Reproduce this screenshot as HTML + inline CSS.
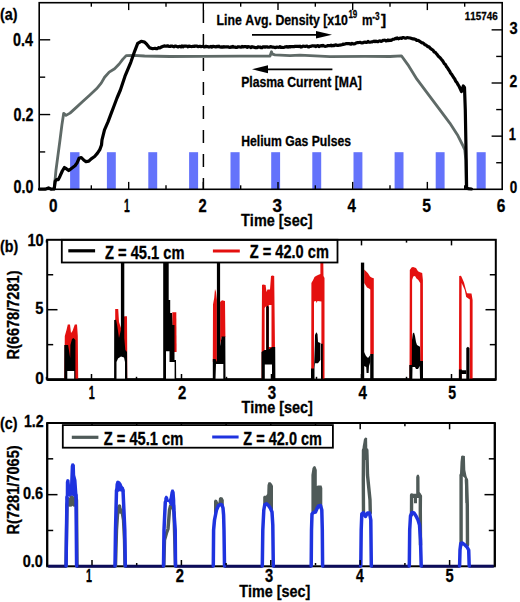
<!DOCTYPE html>
<html><head><meta charset="utf-8"><style>
html,body{margin:0;padding:0;background:#fff;}
svg{display:block;}
text{font-family:"Liberation Sans",sans-serif;font-weight:bold;font-kerning:none;stroke:#000;stroke-width:0.3px;}
</style></head><body>
<svg width="520" height="602" viewBox="0 0 520 602">
<rect width="520" height="602" fill="#fff"/>
<rect x="70.10" y="152.20" width="9.40" height="37.10" fill="#6473fb"/>
<rect x="106.90" y="152.20" width="8.90" height="37.10" fill="#6473fb"/>
<rect x="148.30" y="152.20" width="8.90" height="37.10" fill="#6473fb"/>
<rect x="189.10" y="152.20" width="9.00" height="37.10" fill="#6473fb"/>
<rect x="230.50" y="152.20" width="9.10" height="37.10" fill="#6473fb"/>
<rect x="271.20" y="152.20" width="8.90" height="37.10" fill="#6473fb"/>
<rect x="312.30" y="152.20" width="8.90" height="37.10" fill="#6473fb"/>
<rect x="353.50" y="152.20" width="8.90" height="37.10" fill="#6473fb"/>
<rect x="394.60" y="152.20" width="8.90" height="37.10" fill="#6473fb"/>
<rect x="435.70" y="152.20" width="8.90" height="37.10" fill="#6473fb"/>
<rect x="476.60" y="152.20" width="9.10" height="37.10" fill="#6473fb"/>
<line x1="203.40" y1="10.00" x2="203.40" y2="190.00" stroke="#000" stroke-width="1.5" stroke-dasharray="13 11"/>
<polyline points="54.20,189.00 56.00,170.00 58.00,155.00 60.00,140.00 61.90,125.00 63.70,113.30 66.00,115.40 70.00,113.10 75.80,107.90 82.70,101.50 89.60,95.20 96.50,88.80 101.20,83.10 104.60,77.30 109.20,72.10 114.60,68.70 119.20,64.00 122.70,59.40 126.20,55.60 133.00,55.40 144.60,56.00 170.00,56.50 200.00,56.30 240.00,56.20 262.00,56.20 270.00,56.00 271.50,51.80 272.50,54.20 275.00,54.90 290.00,55.60 300.00,55.20 330.00,56.60 365.00,56.30 390.00,56.50 401.40,55.80 407.80,64.60 416.90,79.20 427.90,93.80 438.80,108.40 449.80,123.10 458.00,135.80 462.60,145.00 464.80,150.00 465.80,160.00 466.30,188.50" fill="none" stroke="#5f6a67" stroke-width="2.8" stroke-linejoin="round" stroke-linecap="round" />
<polyline points="39.50,189.20 45.00,189.20 48.50,187.90 51.30,189.20 54.20,188.80 55.20,181.30 56.50,179.60 58.30,179.60 60.00,176.20 62.30,171.00 64.40,167.50 66.30,168.70 68.70,170.60 70.40,169.20 72.70,167.50 75.00,165.80 77.10,162.90 79.00,158.30 81.30,157.50 83.70,160.00 86.00,161.70 88.80,161.20 91.20,158.80 94.60,156.50 97.50,153.10 99.80,149.60 101.50,145.00 102.00,139.90 104.50,129.90 108.00,121.90 111.00,113.90 114.00,106.00 117.00,98.00 120.40,90.00 125.00,76.20 130.80,62.30 134.80,50.80 137.70,43.30 141.20,41.30 144.60,42.10 146.90,44.40 149.80,47.90 152.70,48.70 153.87,48.51 155.03,48.32 156.20,48.70 157.33,48.60 158.47,47.70 159.60,47.90 160.77,47.44 161.93,46.75 163.10,46.40 164.23,45.85 165.37,46.27 166.50,46.20 167.67,45.79 168.83,46.33 170.00,46.50 171.00,46.02 172.00,46.04 173.00,46.40 174.00,46.84 175.00,46.06 176.00,46.17 177.00,46.61 178.00,46.95 179.00,46.54 180.00,46.34 181.00,46.97 182.00,45.94 183.00,46.83 184.00,46.20 185.00,46.03 186.00,46.00 187.00,46.20 188.00,46.76 189.00,46.05 190.00,46.40 191.00,46.50 192.00,46.58 193.00,46.30 194.00,46.50 195.00,45.98 196.00,45.99 197.00,46.16 198.00,46.69 199.00,46.43 200.00,46.32 201.00,46.63 202.00,46.49 203.00,46.34 204.00,46.89 205.00,46.80 206.00,46.31 207.00,46.69 208.00,46.64 209.00,47.04 210.00,46.89 211.00,46.42 212.00,47.19 213.00,46.26 214.00,46.60 215.00,46.70 216.00,46.99 217.00,46.34 218.00,46.72 219.00,46.24 220.00,46.95 221.00,47.06 222.00,46.86 223.00,47.21 224.00,46.60 225.00,47.03 226.00,46.94 227.00,46.93 228.00,46.81 229.00,47.24 230.00,47.37 231.00,46.86 232.00,47.08 233.00,46.43 234.00,47.15 235.00,47.10 236.00,47.49 237.00,47.32 238.00,46.74 239.00,46.86 240.00,47.00 241.00,47.19 242.00,46.49 243.00,46.98 244.00,46.67 245.00,46.62 246.00,46.56 247.00,47.35 248.00,46.66 249.00,46.79 250.00,46.96 251.00,47.50 252.00,46.63 253.00,47.05 254.00,47.17 255.00,47.54 256.00,47.48 257.00,47.54 258.00,46.90 259.00,47.06 260.00,47.00 261.00,47.59 262.00,47.68 263.00,46.80 264.00,46.84 265.00,47.20 266.00,46.90 267.00,46.89 268.00,47.16 269.00,47.27 270.00,46.90 271.00,46.61 272.00,47.05 273.00,46.99 274.00,47.20 275.00,47.62 276.00,47.32 277.00,47.12 278.00,47.23 279.00,47.28 280.00,46.59 281.00,47.51 282.00,47.37 283.00,47.47 284.00,47.38 285.00,46.92 286.00,46.92 287.00,46.59 288.00,47.16 289.00,46.53 290.00,47.00 291.00,46.49 292.00,46.61 293.00,46.53 294.00,46.69 295.00,46.35 296.00,46.26 297.00,46.39 298.00,46.30 299.00,46.56 300.00,46.15 301.00,47.05 302.00,46.74 303.00,46.19 304.00,46.27 305.00,46.34 306.00,46.33 307.00,46.03 308.00,46.80 309.00,46.92 310.00,46.31 311.00,46.30 312.00,45.83 313.00,45.81 314.00,46.05 315.00,45.93 316.00,46.52 317.00,45.75 318.00,45.57 319.00,46.55 320.00,46.06 321.00,45.60 322.00,46.01 323.00,45.41 324.00,45.93 325.00,46.39 326.00,46.23 327.00,46.01 328.00,45.50 329.00,45.59 330.00,45.70 331.00,45.23 332.00,45.80 333.00,45.44 334.00,45.61 335.00,45.01 336.00,44.80 337.00,45.34 338.00,45.43 339.00,45.19 340.00,45.04 341.00,44.95 342.00,44.76 343.00,44.10 344.00,44.32 345.00,44.04 346.00,43.58 347.00,43.48 348.00,43.66 349.00,43.54 350.00,43.91 351.00,44.10 352.00,43.44 353.00,43.88 354.00,43.84 355.00,43.70 356.00,42.95 357.00,42.69 358.00,42.60 359.00,42.47 360.00,42.37 361.00,42.74 362.00,42.94 363.00,42.77 364.00,42.28 365.00,42.20 366.00,42.29 367.00,42.37 368.00,41.50 369.00,42.06 370.00,42.25 371.00,42.03 372.00,41.92 373.00,41.54 374.00,41.13 375.00,41.72 376.00,41.14 377.00,41.57 378.00,41.68 379.00,40.97 380.00,40.89 381.00,41.41 382.00,41.09 383.00,40.40 384.00,40.27 385.00,40.22 386.00,40.97 387.00,40.78 388.00,39.97 389.00,40.64 390.00,40.20 391.03,40.46 392.07,39.84 393.10,39.24 394.13,39.19 395.17,38.46 396.20,38.60 397.29,37.92 398.37,38.83 399.46,38.34 400.54,38.06 401.63,38.36 402.71,37.67 403.80,37.60 404.90,38.12 406.00,38.19 407.10,37.63 408.20,37.78 409.30,37.94 410.40,38.00 411.50,38.40 412.53,38.81 413.57,38.77 414.60,39.26 415.63,39.26 416.67,40.43 417.70,40.30 418.72,40.67 419.73,41.32 420.75,41.99 421.77,42.88 422.78,42.88 423.80,43.50 424.83,44.73 425.87,45.04 426.90,45.84 427.93,46.59 428.97,46.80 430.00,48.10 431.03,48.93 432.07,49.55 433.10,50.25 434.13,52.03 435.17,52.24 436.20,53.50 437.22,54.62 438.23,56.05 439.25,57.01 440.27,57.91 441.28,59.27 442.30,60.40 443.33,61.99 444.37,63.78 445.40,64.57 446.43,66.60 447.47,67.79 448.50,69.60 449.52,70.89 450.53,72.97 451.55,74.21 452.57,75.80 453.58,77.55 454.60,78.80 455.75,81.18 456.90,82.59 458.05,84.70 459.20,86.50 461.50,91.50 463.30,86.00 464.50,87.50 465.30,110.00 466.20,160.00 466.60,187.50 468.00,188.60 471.50,189.00" fill="none" stroke="#000" stroke-width="3.2" stroke-linejoin="round" stroke-linecap="round" />
<rect x="39.2" y="2.7" width="463.00" height="186.60" fill="none" stroke="#000" stroke-width="1.6"/>
<line x1="91.33" y1="189.30" x2="91.33" y2="185.30" stroke="#000" stroke-width="1.4" />
<line x1="91.33" y1="2.70" x2="91.33" y2="6.70" stroke="#000" stroke-width="1.4" />
<line x1="128.67" y1="189.30" x2="128.67" y2="181.90" stroke="#000" stroke-width="1.4" />
<line x1="128.67" y1="2.70" x2="128.67" y2="10.10" stroke="#000" stroke-width="1.4" />
<line x1="166.00" y1="189.30" x2="166.00" y2="185.30" stroke="#000" stroke-width="1.4" />
<line x1="166.00" y1="2.70" x2="166.00" y2="6.70" stroke="#000" stroke-width="1.4" />
<line x1="203.33" y1="189.30" x2="203.33" y2="181.90" stroke="#000" stroke-width="1.4" />
<line x1="203.33" y1="2.70" x2="203.33" y2="10.10" stroke="#000" stroke-width="1.4" />
<line x1="240.67" y1="189.30" x2="240.67" y2="185.30" stroke="#000" stroke-width="1.4" />
<line x1="240.67" y1="2.70" x2="240.67" y2="6.70" stroke="#000" stroke-width="1.4" />
<line x1="278.00" y1="189.30" x2="278.00" y2="181.90" stroke="#000" stroke-width="1.4" />
<line x1="278.00" y1="2.70" x2="278.00" y2="10.10" stroke="#000" stroke-width="1.4" />
<line x1="315.33" y1="189.30" x2="315.33" y2="185.30" stroke="#000" stroke-width="1.4" />
<line x1="315.33" y1="2.70" x2="315.33" y2="6.70" stroke="#000" stroke-width="1.4" />
<line x1="352.67" y1="189.30" x2="352.67" y2="181.90" stroke="#000" stroke-width="1.4" />
<line x1="352.67" y1="2.70" x2="352.67" y2="10.10" stroke="#000" stroke-width="1.4" />
<line x1="390.00" y1="189.30" x2="390.00" y2="185.30" stroke="#000" stroke-width="1.4" />
<line x1="390.00" y1="2.70" x2="390.00" y2="6.70" stroke="#000" stroke-width="1.4" />
<line x1="427.34" y1="189.30" x2="427.34" y2="181.90" stroke="#000" stroke-width="1.4" />
<line x1="427.34" y1="2.70" x2="427.34" y2="10.10" stroke="#000" stroke-width="1.4" />
<line x1="464.67" y1="189.30" x2="464.67" y2="185.30" stroke="#000" stroke-width="1.4" />
<line x1="464.67" y1="2.70" x2="464.67" y2="6.70" stroke="#000" stroke-width="1.4" />
<line x1="39.20" y1="151.93" x2="45.20" y2="151.93" stroke="#000" stroke-width="1.4" />
<line x1="39.20" y1="114.55" x2="50.20" y2="114.55" stroke="#000" stroke-width="1.4" />
<line x1="39.20" y1="77.17" x2="45.20" y2="77.17" stroke="#000" stroke-width="1.4" />
<line x1="39.20" y1="39.80" x2="50.20" y2="39.80" stroke="#000" stroke-width="1.4" />
<line x1="502.20" y1="162.73" x2="496.20" y2="162.73" stroke="#000" stroke-width="1.4" />
<line x1="502.20" y1="136.15" x2="491.60" y2="136.15" stroke="#000" stroke-width="1.4" />
<line x1="502.20" y1="109.58" x2="496.20" y2="109.58" stroke="#000" stroke-width="1.4" />
<line x1="502.20" y1="83.00" x2="491.60" y2="83.00" stroke="#000" stroke-width="1.4" />
<line x1="502.20" y1="56.43" x2="496.20" y2="56.43" stroke="#000" stroke-width="1.4" />
<line x1="502.20" y1="29.85" x2="491.60" y2="29.85" stroke="#000" stroke-width="1.4" />
<text transform="translate(0.09,19.90) scale(0.8243,1)" font-size="17.4" fill="#000" >(a)</text>
<text transform="translate(13.03,45.80) scale(0.8200,1)" font-size="17.5" fill="#000" >0.4</text>
<text transform="translate(13.43,120.60) scale(0.8200,1)" font-size="17.5" fill="#000" >0.2</text>
<text transform="translate(13.44,192.70) scale(0.8200,1)" font-size="17.5" fill="#000" >0.0</text>
<text transform="translate(509.56,34.40) scale(0.8489,1)" font-size="17.3" fill="#000" >3</text>
<text transform="translate(509.42,87.00) scale(0.8044,1)" font-size="17.3" fill="#000" >2</text>
<text transform="translate(508.79,140.10) scale(0.7453,1)" font-size="17.3" fill="#000" >1</text>
<text transform="translate(509.67,192.80) scale(0.7779,1)" font-size="17.3" fill="#000" >0</text>
<text transform="translate(48.89,211.60) scale(0.8771,1)" font-size="17.5" fill="#000" >0</text>
<text transform="translate(124.05,211.60) scale(0.5894,1)" font-size="17.5" fill="#000" >1</text>
<text transform="translate(198.39,211.60) scale(0.8427,1)" font-size="17.5" fill="#000" >2</text>
<text transform="translate(272.51,211.60) scale(0.9772,1)" font-size="17.5" fill="#000" >3</text>
<text transform="translate(347.57,211.60) scale(0.8641,1)" font-size="17.5" fill="#000" >4</text>
<text transform="translate(422.32,211.60) scale(0.8958,1)" font-size="17.5" fill="#000" >5</text>
<text transform="translate(496.73,211.60) scale(0.8866,1)" font-size="17.5" fill="#000" >6</text>
<text transform="translate(241.04,225.80) scale(0.8613,1)" font-size="16.8" fill="#000" >Time [sec]</text>
<text transform="translate(464.78,19.70) scale(0.8493,1)" font-size="11.6" fill="#000" >115746</text>
<text transform="translate(216.58,25.00) scale(0.8620,1)" font-size="14.3" fill="#000" >Line Avg. Density [x10</text>
<text transform="translate(348.40,17.70) scale(0.7020,1)" font-size="11.4" fill="#000" >19</text>
<text transform="translate(362.02,25.00) scale(0.8268,1)" font-size="14.3" fill="#000" >m</text>
<text transform="translate(372.18,20.40) scale(0.7220,1)" font-size="11.4" fill="#000" >-3</text>
<text transform="translate(381.01,25.00) scale(1.0834,1)" font-size="14.3" fill="#000" >]</text>
<text transform="translate(241.18,86.60) scale(0.8717,1)" font-size="14.0" fill="#000" >Plasma Current [MA]</text>
<text transform="translate(241.18,145.60) scale(0.8537,1)" font-size="14.3" fill="#000" >Helium Gas Pulses</text>
<line x1="252.00" y1="34.80" x2="318.00" y2="34.80" stroke="#000" stroke-width="1.7" />
<polygon points="316.00,31.10 332.00,34.80 316.00,38.50" fill="#000" />
<line x1="266.00" y1="69.30" x2="332.40" y2="69.30" stroke="#000" stroke-width="1.7" />
<polygon points="268.00,65.30 252.00,69.30 268.00,73.30" fill="#000" />
<line x1="47.20" y1="379.60" x2="495.80" y2="379.60" stroke="#000" stroke-width="2.6" />
<polygon points="64.30,379.00 64.80,336.00 66.50,330.00 67.80,324.50 70.00,324.50 71.00,333.00 72.50,331.00 74.80,324.50 77.00,324.50 77.80,336.00 78.20,379.00" fill="#e4100f" />
<polygon points="64.30,379.60 64.30,345.00 68.10,345.00 70.20,358.00 70.40,345.00 72.00,339.00 73.50,338.00 75.40,340.00 75.40,379.60" fill="#000" />
<polygon points="67.30,379.00 67.30,371.00 74.20,371.00 74.20,379.00" fill="#fff" />
<polygon points="115.20,379.00 115.20,309.00 118.20,309.00 119.00,322.00 121.00,328.00 124.30,316.30 127.00,316.30 127.20,348.00 127.20,379.00" fill="#e4100f" />
<polygon points="114.10,379.60 114.20,320.00 116.10,319.80 117.30,326.00 119.00,338.00 120.90,330.00 120.90,240.00 124.30,240.00 124.30,338.00 125.30,350.00 127.00,352.00 127.30,379.60" fill="#000" />
<polygon points="116.50,379.00 116.50,362.00 118.00,358.60 121.00,356.50 124.00,357.50 125.00,362.00 125.00,379.00" fill="#fff" />
<polygon points="172.30,352.00 172.30,312.20 176.30,312.20 176.60,352.00" fill="#e4100f" />
<polygon points="163.20,379.60 163.20,240.00 168.70,240.00 168.70,300.00 170.20,300.00 170.20,313.00 172.00,313.00 172.50,325.00 174.50,325.00 174.50,360.00 176.00,360.00 176.20,379.60" fill="#000" />
<polygon points="166.00,379.00 166.00,351.20 169.50,351.20 169.50,361.90 174.60,361.90 174.60,379.00" fill="#fff" />
<polygon points="212.80,362.00 213.00,304.40 214.20,298.00 215.00,289.00 216.00,292.00 216.90,300.00 216.90,362.00" fill="#e4100f" />
<polygon points="220.10,345.00 220.10,302.00 222.00,300.30 225.00,301.00 225.40,337.00 221.70,337.00" fill="#e4100f" />
<polygon points="212.80,379.60 212.80,359.00 215.50,359.00 216.90,362.00 216.90,240.00 220.10,240.00 220.10,346.00 221.70,336.60 225.30,336.60 225.50,379.60" fill="#000" />
<polygon points="215.50,379.00 216.00,364.00 223.30,364.00 223.30,379.00" fill="#fff" />
<polygon points="261.60,356.00 262.00,285.00 263.00,284.60 265.60,285.00 266.50,292.00 267.50,289.40 270.00,289.40 271.00,276.00 272.50,275.40 274.20,276.00 275.00,350.00 275.00,379.00 261.60,379.00" fill="#e4100f" />
<polygon points="268.80,347.00 268.80,305.00 271.50,305.00 271.50,347.00" fill="#fff" />
<polygon points="264.60,351.00 264.60,308.00 266.20,306.00 266.20,351.00" fill="#fff" />
<polygon points="266.20,362.00 266.20,307.00 267.50,305.60 268.80,307.00 268.80,362.00" fill="#000" />
<polygon points="261.50,379.60 261.50,352.00 264.50,350.00 268.00,350.00 272.20,347.00 275.20,347.00 275.40,379.60" fill="#000" />
<polygon points="264.80,379.00 264.80,364.50 272.00,364.50 272.00,379.00" fill="#fff" />
<polygon points="311.20,379.00 311.40,283.00 313.00,280.30 314.50,277.10 316.00,276.10 318.00,275.00 320.40,274.00 320.40,240.00 323.00,240.00 323.50,276.00 324.50,278.00 324.50,379.00" fill="#e4100f" />
<polygon points="314.00,379.00 314.00,301.60 316.00,301.00 316.50,303.00 317.50,301.00 321.40,301.60 321.40,379.00" fill="#fff" />
<polygon points="311.00,379.60 311.00,368.40 314.00,368.40 314.80,345.00 315.00,335.00 316.30,332.30 317.50,334.00 318.00,342.00 320.40,343.00 320.40,360.00 318.00,363.20 315.00,363.20 314.50,368.00 314.50,379.60" fill="#000" />
<polygon points="321.00,379.60 321.00,343.70 322.80,343.70 322.80,379.60" fill="#000" />
<polygon points="364.20,269.60 366.00,271.20 368.00,273.30 370.00,276.60 372.00,277.70 373.80,278.20 373.80,354.00 370.30,354.00 370.30,289.50 369.00,288.40 367.00,287.40 364.20,283.00" fill="#e4100f" />
<polygon points="360.90,379.60 360.90,262.60 364.20,262.60 364.20,379.60" fill="#000" />
<polygon points="370.20,379.60 370.20,354.00 373.60,354.00 373.60,379.60" fill="#000" />
<polygon points="364.00,352.00 366.00,356.00 368.00,358.00 370.30,355.00 370.30,362.00 369.00,366.00 368.60,373.00 366.60,373.00 366.20,367.00 364.00,366.00" fill="#000" />
<polygon points="409.50,379.00 409.80,270.00 411.50,267.50 413.00,267.10 416.00,268.00 418.00,271.20 420.00,272.20 422.20,273.00 422.90,280.00 423.00,379.00" fill="#e4100f" />
<polygon points="412.10,379.00 412.10,280.00 413.20,276.50 415.00,276.00 416.50,278.50 418.30,280.00 420.20,283.00 420.20,379.00" fill="#fff" />
<polygon points="409.30,379.60 409.30,365.00 411.80,365.00 412.00,340.00 412.80,333.50 414.00,332.60 415.00,336.00 416.00,342.00 417.00,345.00 420.00,346.80 420.30,361.00 423.00,361.00 423.00,379.60" fill="#000" />
<polygon points="412.30,379.00 412.50,367.00 415.00,367.00 416.00,369.00 418.00,369.00 419.70,366.00 420.00,379.00" fill="#fff" />
<polygon points="458.90,379.00 459.20,276.00 461.00,275.70 462.50,279.00 464.00,282.50 466.00,290.30 467.00,293.20 471.50,293.50 472.60,300.00 472.60,379.00" fill="#e4100f" />
<polygon points="461.60,379.00 461.60,283.00 463.00,286.00 464.80,290.00 466.20,297.00 469.80,299.50 469.80,379.00" fill="#fff" />
<polygon points="466.30,379.60 466.30,348.00 467.90,346.70 469.50,348.00 469.50,379.60" fill="#000" />
<polygon points="458.90,379.60 458.90,369.40 461.80,369.40 461.80,370.20 466.30,370.20 466.30,374.00 461.80,374.00 461.80,379.60" fill="#000" />
<line x1="46.50" y1="379.60" x2="46.50" y2="376.80" stroke="#000" stroke-width="1.5" />
<line x1="46.50" y1="239.80" x2="46.50" y2="242.60" stroke="#000" stroke-width="1.5" />
<line x1="91.50" y1="379.60" x2="91.50" y2="374.00" stroke="#000" stroke-width="1.5" />
<line x1="91.50" y1="239.80" x2="91.50" y2="245.40" stroke="#000" stroke-width="1.5" />
<line x1="136.50" y1="379.60" x2="136.50" y2="376.80" stroke="#000" stroke-width="1.5" />
<line x1="136.50" y1="239.80" x2="136.50" y2="242.60" stroke="#000" stroke-width="1.5" />
<line x1="181.50" y1="379.60" x2="181.50" y2="374.00" stroke="#000" stroke-width="1.5" />
<line x1="181.50" y1="239.80" x2="181.50" y2="245.40" stroke="#000" stroke-width="1.5" />
<line x1="226.50" y1="379.60" x2="226.50" y2="376.80" stroke="#000" stroke-width="1.5" />
<line x1="226.50" y1="239.80" x2="226.50" y2="242.60" stroke="#000" stroke-width="1.5" />
<line x1="271.50" y1="379.60" x2="271.50" y2="374.00" stroke="#000" stroke-width="1.5" />
<line x1="271.50" y1="239.80" x2="271.50" y2="245.40" stroke="#000" stroke-width="1.5" />
<line x1="316.50" y1="379.60" x2="316.50" y2="376.80" stroke="#000" stroke-width="1.5" />
<line x1="316.50" y1="239.80" x2="316.50" y2="242.60" stroke="#000" stroke-width="1.5" />
<line x1="361.50" y1="379.60" x2="361.50" y2="374.00" stroke="#000" stroke-width="1.5" />
<line x1="361.50" y1="239.80" x2="361.50" y2="245.40" stroke="#000" stroke-width="1.5" />
<line x1="406.50" y1="379.60" x2="406.50" y2="376.80" stroke="#000" stroke-width="1.5" />
<line x1="406.50" y1="239.80" x2="406.50" y2="242.60" stroke="#000" stroke-width="1.5" />
<line x1="451.50" y1="379.60" x2="451.50" y2="374.00" stroke="#000" stroke-width="1.5" />
<line x1="451.50" y1="239.80" x2="451.50" y2="245.40" stroke="#000" stroke-width="1.5" />
<line x1="47.20" y1="344.65" x2="53.20" y2="344.65" stroke="#000" stroke-width="1.5" />
<line x1="495.80" y1="344.65" x2="489.80" y2="344.65" stroke="#000" stroke-width="1.5" />
<line x1="47.20" y1="309.70" x2="57.50" y2="309.70" stroke="#000" stroke-width="1.5" />
<line x1="495.80" y1="309.70" x2="485.50" y2="309.70" stroke="#000" stroke-width="1.5" />
<line x1="47.20" y1="274.75" x2="53.20" y2="274.75" stroke="#000" stroke-width="1.5" />
<line x1="495.80" y1="274.75" x2="489.80" y2="274.75" stroke="#000" stroke-width="1.5" />
<rect x="61.8" y="239.8" width="275.7" height="22.70" fill="#fff" stroke="#000" stroke-width="1.8"/>
<line x1="68.30" y1="250.80" x2="95.10" y2="250.80" stroke="#000" stroke-width="3.2" />
<line x1="212.90" y1="251.00" x2="239.80" y2="251.00" stroke="#e4100f" stroke-width="3.0" />
<text transform="translate(104.96,258.60) scale(0.8256,1)" font-size="17.8" fill="#000" >Z = 45.1 cm</text>
<text transform="translate(249.76,258.40) scale(0.8214,1)" font-size="17.8" fill="#000" >Z = 42.0 cm</text>
<rect x="47.2" y="239.8" width="448.60" height="139.80" fill="none" stroke="#000" stroke-width="2"/>
<text transform="translate(-0.01,252.00) scale(0.8201,1)" font-size="17.4" fill="#000" >(b)</text>
<text transform="translate(27.38,245.70) scale(0.8484,1)" font-size="17.3" fill="#000" >10</text>
<text transform="translate(35.35,313.60) scale(0.8481,1)" font-size="17.3" fill="#000" >5</text>
<text transform="translate(35.19,383.60) scale(0.8873,1)" font-size="17.3" fill="#000" >0</text>
<text transform="translate(88.72,398.50) scale(0.6140,1)" font-size="17.5" fill="#000" >1</text>
<text transform="translate(177.98,398.50) scale(0.8546,1)" font-size="17.5" fill="#000" >2</text>
<text transform="translate(267.65,398.50) scale(0.8622,1)" font-size="17.5" fill="#000" >3</text>
<text transform="translate(358.47,398.50) scale(0.8641,1)" font-size="17.5" fill="#000" >4</text>
<text transform="translate(448.27,398.50) scale(0.8039,1)" font-size="17.5" fill="#000" >5</text>
<text transform="translate(241.44,413.40) scale(0.8613,1)" font-size="16.8" fill="#000" >Time [sec]</text>
<text transform="translate(19.40,359.57) rotate(-90) scale(0.8571,1)" font-size="17.0">R(6678/7281)</text>
<rect x="47.2" y="423.0" width="447.60" height="143.30" fill="none" stroke="#000" stroke-width="2"/>
<polyline points="66.00,566.00 67.00,505.00 68.50,499.00 70.00,505.00 71.50,497.00 73.00,500.00 74.00,505.00 75.50,497.00 76.50,500.00 77.00,566.00" fill="none" stroke="#4f5a58" stroke-width="3.4" stroke-linejoin="round" stroke-linecap="round" />
<polyline points="115.50,566.00 116.50,530.00 117.50,515.00 118.50,508.00 119.50,506.00 120.50,512.00 121.50,510.00 122.50,514.00 123.50,520.00 124.50,540.00 125.00,566.00" fill="none" stroke="#4f5a58" stroke-width="3.4" stroke-linejoin="round" stroke-linecap="round" />
<polyline points="163.80,566.00 164.50,540.00 166.50,533.00 168.00,529.00 169.50,510.00 170.50,506.00 172.50,505.00 174.00,512.00 175.50,566.00" fill="none" stroke="#4f5a58" stroke-width="3.4" stroke-linejoin="round" stroke-linecap="round" />
<polyline points="363.50,513.00 363.30,480.00 363.50,450.00" fill="none" stroke="#4f5a58" stroke-width="3.4" stroke-linejoin="round" stroke-linecap="round" />
<polyline points="366.80,450.00 367.00,455.00 367.50,475.00 369.00,490.00 370.00,500.00 370.30,513.00" fill="none" stroke="#4f5a58" stroke-width="3.4" stroke-linejoin="round" stroke-linecap="round" />
<polyline points="411.50,515.00 411.60,495.00" fill="none" stroke="#4f5a58" stroke-width="3.4" stroke-linejoin="round" stroke-linecap="round" />
<polyline points="420.50,545.00 420.30,510.00 420.40,496.00" fill="none" stroke="#4f5a58" stroke-width="3.4" stroke-linejoin="round" stroke-linecap="round" />
<polyline points="461.10,545.00 461.10,475.00" fill="none" stroke="#4f5a58" stroke-width="3.4" stroke-linejoin="round" stroke-linecap="round" />
<polyline points="467.50,545.00 467.30,505.00 466.50,480.00" fill="none" stroke="#4f5a58" stroke-width="3.4" stroke-linejoin="round" stroke-linecap="round" />
<polygon points="70.80,507.00 70.80,496.00 73.50,496.00 73.80,505.00" fill="#4f5a58" />
<polygon points="214.00,522.00 214.00,501.00 215.00,499.60 217.00,500.00 218.40,503.00 219.00,498.00 220.50,497.00 222.50,497.50 223.80,500.00 223.80,508.00 221.00,505.00 218.50,507.00 216.00,513.00" fill="#4f5a58" />
<polygon points="263.20,506.00 263.20,497.00 264.00,495.80 266.00,495.80 267.20,494.00 267.50,485.00 268.50,482.20 270.50,482.20 272.00,484.00 273.00,486.00 273.00,512.00 271.00,509.00 269.00,506.00 266.50,504.00" fill="#4f5a58" />
<polygon points="311.40,515.00 311.40,475.00 312.50,468.00 314.00,466.00 315.50,466.50 316.80,470.00 316.80,486.00 318.00,485.40 321.50,485.40 322.30,488.00 322.30,508.00 320.00,505.00 317.00,508.00 314.50,512.00" fill="#4f5a58" />
<polygon points="362.40,460.00 362.60,447.00 364.00,439.00 365.30,437.40 367.10,438.00 367.50,460.00" fill="#4f5a58" />
<polygon points="411.00,498.00 411.00,494.50 412.00,493.70 416.20,493.70 416.20,477.00 417.00,474.80 418.80,474.80 419.50,477.00 419.60,492.00 421.10,494.00 421.10,498.00 417.00,498.00 417.00,503.30 414.00,503.30 414.00,498.00" fill="#4f5a58" />
<polygon points="459.90,476.00 460.50,462.00 461.20,456.00 462.50,455.50 464.90,456.00 465.30,470.00 466.50,476.00 468.00,480.00 468.00,503.00 465.50,503.00 464.80,478.00 462.50,476.00" fill="#4f5a58" />
<line x1="48.20" y1="566.20" x2="66.10" y2="566.20" stroke="#0c0c5a" stroke-width="3.0" />
<line x1="76.60" y1="566.20" x2="115.00" y2="566.20" stroke="#0c0c5a" stroke-width="3.0" />
<line x1="125.30" y1="566.20" x2="163.50" y2="566.20" stroke="#0c0c5a" stroke-width="3.0" />
<line x1="175.50" y1="566.20" x2="213.30" y2="566.20" stroke="#0c0c5a" stroke-width="3.0" />
<line x1="224.50" y1="566.20" x2="262.30" y2="566.20" stroke="#0c0c5a" stroke-width="3.0" />
<line x1="273.30" y1="566.20" x2="311.20" y2="566.20" stroke="#0c0c5a" stroke-width="3.0" />
<line x1="322.60" y1="566.20" x2="360.80" y2="566.20" stroke="#0c0c5a" stroke-width="3.0" />
<line x1="371.30" y1="566.20" x2="409.30" y2="566.20" stroke="#0c0c5a" stroke-width="3.0" />
<line x1="421.20" y1="566.20" x2="459.60" y2="566.20" stroke="#0c0c5a" stroke-width="3.0" />
<line x1="469.20" y1="566.20" x2="493.80" y2="566.20" stroke="#0c0c5a" stroke-width="3.0" />
<polyline points="66.10,566.00 66.50,530.00 67.00,497.00" fill="none" stroke="#1f33df" stroke-width="3.5" stroke-linejoin="round" stroke-linecap="round" />
<polyline points="76.60,566.00 76.30,530.00 76.00,495.00" fill="none" stroke="#1f33df" stroke-width="3.5" stroke-linejoin="round" stroke-linecap="round" />
<polyline points="115.00,566.00 115.50,530.00 116.50,490.00" fill="none" stroke="#1f33df" stroke-width="3.5" stroke-linejoin="round" stroke-linecap="round" />
<polyline points="125.30,566.00 124.80,530.00 123.00,490.00" fill="none" stroke="#1f33df" stroke-width="3.5" stroke-linejoin="round" stroke-linecap="round" />
<polyline points="163.50,566.00 164.00,530.00 165.30,502.00" fill="none" stroke="#1f33df" stroke-width="3.5" stroke-linejoin="round" stroke-linecap="round" />
<polyline points="175.50,566.00 175.20,530.00 173.50,505.00" fill="none" stroke="#1f33df" stroke-width="3.5" stroke-linejoin="round" stroke-linecap="round" />
<polyline points="213.30,566.00 213.60,530.00 214.50,520.00 216.50,510.00 218.50,505.50 220.50,504.50 222.00,505.00 223.00,508.00 223.60,515.00 224.00,530.00 224.50,566.00" fill="none" stroke="#1f33df" stroke-width="3.5" stroke-linejoin="round" stroke-linecap="round" />
<polyline points="262.30,566.00 262.80,530.00 263.80,510.00 264.80,504.50 266.50,503.80 268.50,505.50 270.50,508.50 272.00,512.00 272.80,525.00 273.30,566.00" fill="none" stroke="#1f33df" stroke-width="3.5" stroke-linejoin="round" stroke-linecap="round" />
<polyline points="311.20,566.00 311.50,530.00 312.00,514.00 313.50,512.50 315.50,512.00 317.00,508.50 318.50,506.00 320.50,505.50 321.80,510.00 322.30,530.00 322.60,566.00" fill="none" stroke="#1f33df" stroke-width="3.5" stroke-linejoin="round" stroke-linecap="round" />
<polyline points="360.80,566.00 361.20,530.00 361.80,514.00 363.50,512.80 365.50,516.50 367.50,513.00 369.50,513.00 370.80,520.00 371.30,566.00" fill="none" stroke="#1f33df" stroke-width="3.5" stroke-linejoin="round" stroke-linecap="round" />
<polyline points="409.30,566.00 409.70,530.00 410.50,516.00 412.00,512.50 414.00,513.00 416.00,516.00 418.00,520.00 419.50,525.00 420.50,540.00 421.20,566.00" fill="none" stroke="#1f33df" stroke-width="3.5" stroke-linejoin="round" stroke-linecap="round" />
<polyline points="459.60,566.00 460.00,550.00 460.80,543.50 462.50,543.00 465.00,545.00 467.00,547.00 468.70,550.00 469.20,566.00" fill="none" stroke="#1f33df" stroke-width="3.5" stroke-linejoin="round" stroke-linecap="round" />
<polygon points="65.70,500.00 65.80,482.00 66.50,479.50 68.00,479.10 69.50,480.00 70.00,485.00 70.70,466.00 71.50,463.50 73.50,463.30 74.90,465.00 75.20,475.00 76.50,480.00 77.40,493.00 77.60,500.00 74.50,497.00 72.00,495.50 70.50,496.00 69.50,497.00 68.50,496.00" fill="#1f33df" />
<polygon points="115.00,492.00 115.50,484.00 116.50,481.00 118.00,480.60 120.00,481.50 121.50,483.50 122.50,486.00 124.00,487.50 124.50,492.00 121.00,491.50 119.50,491.20 118.00,492.00" fill="#1f33df" />
<polygon points="164.00,505.00 164.30,498.00 165.50,495.80 167.00,495.70 168.20,497.50 168.70,500.00 169.50,498.00 170.50,492.00 171.50,489.60 173.50,489.50 174.70,492.00 175.30,500.00 175.50,510.00 172.00,506.00 170.00,505.50 168.50,502.00 167.00,502.00" fill="#1f33df" />
<line x1="47.30" y1="565.30" x2="47.30" y2="563.00" stroke="#000" stroke-width="1.5" />
<line x1="47.30" y1="423.00" x2="47.30" y2="426.30" stroke="#000" stroke-width="1.5" />
<line x1="92.00" y1="565.30" x2="92.00" y2="560.00" stroke="#000" stroke-width="1.5" />
<line x1="92.00" y1="423.00" x2="92.00" y2="429.30" stroke="#000" stroke-width="1.5" />
<line x1="136.70" y1="565.30" x2="136.70" y2="563.00" stroke="#000" stroke-width="1.5" />
<line x1="136.70" y1="423.00" x2="136.70" y2="426.30" stroke="#000" stroke-width="1.5" />
<line x1="181.40" y1="565.30" x2="181.40" y2="560.00" stroke="#000" stroke-width="1.5" />
<line x1="181.40" y1="423.00" x2="181.40" y2="429.30" stroke="#000" stroke-width="1.5" />
<line x1="226.10" y1="565.30" x2="226.10" y2="563.00" stroke="#000" stroke-width="1.5" />
<line x1="226.10" y1="423.00" x2="226.10" y2="426.30" stroke="#000" stroke-width="1.5" />
<line x1="270.80" y1="565.30" x2="270.80" y2="560.00" stroke="#000" stroke-width="1.5" />
<line x1="270.80" y1="423.00" x2="270.80" y2="429.30" stroke="#000" stroke-width="1.5" />
<line x1="315.50" y1="565.30" x2="315.50" y2="563.00" stroke="#000" stroke-width="1.5" />
<line x1="315.50" y1="423.00" x2="315.50" y2="426.30" stroke="#000" stroke-width="1.5" />
<line x1="360.20" y1="565.30" x2="360.20" y2="560.00" stroke="#000" stroke-width="1.5" />
<line x1="360.20" y1="423.00" x2="360.20" y2="429.30" stroke="#000" stroke-width="1.5" />
<line x1="404.90" y1="565.30" x2="404.90" y2="563.00" stroke="#000" stroke-width="1.5" />
<line x1="404.90" y1="423.00" x2="404.90" y2="426.30" stroke="#000" stroke-width="1.5" />
<line x1="449.60" y1="565.30" x2="449.60" y2="560.00" stroke="#000" stroke-width="1.5" />
<line x1="449.60" y1="423.00" x2="449.60" y2="429.30" stroke="#000" stroke-width="1.5" />
<line x1="47.20" y1="530.47" x2="53.20" y2="530.47" stroke="#000" stroke-width="1.5" />
<line x1="494.80" y1="530.47" x2="488.80" y2="530.47" stroke="#000" stroke-width="1.5" />
<line x1="47.20" y1="494.65" x2="57.50" y2="494.65" stroke="#000" stroke-width="1.5" />
<line x1="494.80" y1="494.65" x2="484.50" y2="494.65" stroke="#000" stroke-width="1.5" />
<line x1="47.20" y1="458.82" x2="53.20" y2="458.82" stroke="#000" stroke-width="1.5" />
<line x1="494.80" y1="458.82" x2="488.80" y2="458.82" stroke="#000" stroke-width="1.5" />
<rect x="62.8" y="425.1" width="270.1" height="22.6" fill="#fff" stroke="#000" stroke-width="1.8"/>
<line x1="71.80" y1="437.30" x2="98.40" y2="437.30" stroke="#4f5a58" stroke-width="3.2" />
<line x1="212.20" y1="437.00" x2="238.60" y2="437.00" stroke="#1f33df" stroke-width="3.0" />
<text transform="translate(103.76,444.90) scale(0.8245,1)" font-size="17.8" fill="#000" >Z = 45.1 cm</text>
<text transform="translate(243.37,445.10) scale(0.8151,1)" font-size="17.8" fill="#000" >Z = 42.0 cm</text>
<line x1="47.20" y1="423.00" x2="494.80" y2="423.00" stroke="#000" stroke-width="2" />
<line x1="47.20" y1="423.00" x2="47.20" y2="566.30" stroke="#000" stroke-width="2" />
<line x1="494.80" y1="423.00" x2="494.80" y2="566.30" stroke="#000" stroke-width="2" />
<text transform="translate(-0.01,429.30) scale(0.8243,1)" font-size="17.4" fill="#000" >(c)</text>
<text transform="translate(24.01,426.60) scale(0.8675,1)" font-size="16.3" fill="#000" >1.2</text>
<text transform="translate(22.92,498.60) scale(0.8443,1)" font-size="17.3" fill="#000" >0.6</text>
<text transform="translate(22.73,567.30) scale(0.8793,1)" font-size="16.5" fill="#000" >0.0</text>
<text transform="translate(86.02,582.40) scale(0.6140,1)" font-size="17.5" fill="#000" >1</text>
<text transform="translate(175.69,582.40) scale(0.8427,1)" font-size="17.5" fill="#000" >2</text>
<text transform="translate(264.96,582.40) scale(0.8392,1)" font-size="17.5" fill="#000" >3</text>
<text transform="translate(356.09,582.40) scale(0.8001,1)" font-size="17.5" fill="#000" >4</text>
<text transform="translate(445.45,582.40) scale(0.8384,1)" font-size="17.5" fill="#000" >5</text>
<text transform="translate(239.14,597.20) scale(0.8577,1)" font-size="16.8" fill="#000" >Time [sec]</text>
<text transform="translate(19.10,534.48) rotate(-90) scale(0.8581,1)" font-size="17.0">R(7281/7065)</text>
</svg>
</body></html>
